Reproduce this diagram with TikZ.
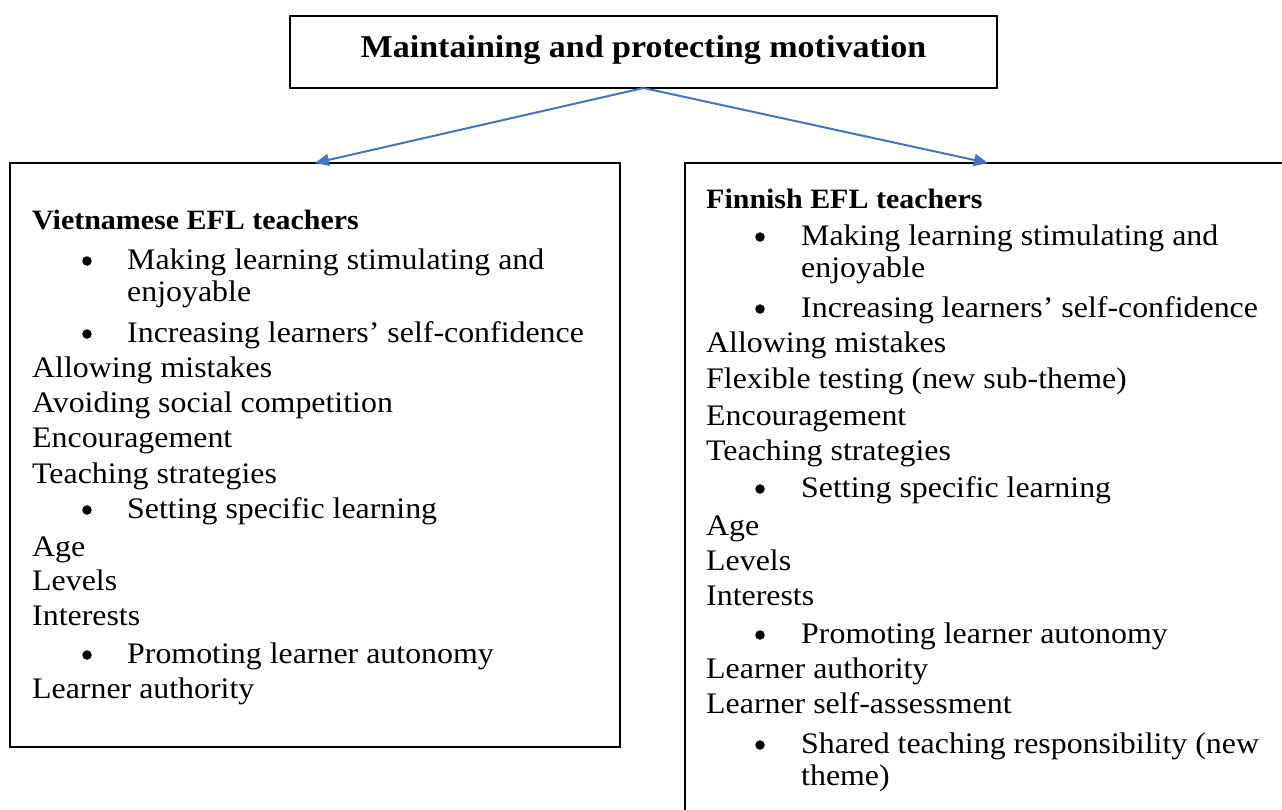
\documentclass[tikz,border=0pt]{standalone}
\usepackage{fontspec}
\setmainfont[FakeStretch=1.07]{Liberation Serif}
\usetikzlibrary{arrows.meta}
\definecolor{arrowblue}{HTML}{4472C4}
\begin{document}
\begin{tikzpicture}[x=1pt,y=-1pt,
  box/.style={draw=black, line width=2pt, inner sep=0pt, outer sep=0pt, anchor=north west},
  txt/.style={anchor=base west, inner sep=0pt, font=\fontsize{29.8}{34}\selectfont},
  hd/.style={anchor=base west, inner sep=0pt, font=\fontsize{28}{34}\selectfont\bfseries},
  ttl/.style={anchor=base, inner sep=0pt, font=\fontsize{31.8}{36}\selectfont\bfseries},
  dot/.style={circle, fill=black, inner sep=0pt, minimum size=9.5pt},
  conn/.style={draw=arrowblue, line width=2pt, -{Triangle[length=14pt,width=12pt]}}
]
\useasboundingbox (0,0) rectangle (1282,809);
\clip (0,0) rectangle (1282,809);

% boxes
\node[box, minimum width=707pt, minimum height=72pt] (top) at (290,16) {};
\node[box, minimum width=610pt, minimum height=584pt] (vbox) at (10,163) {};
\node[box, minimum width=606pt, minimum height=700pt] (fbox) at (685,163) {};

\node[ttl] (title) at (643.5,57) {Maintaining and protecting motivation};

% connectors
\draw[conn] (top.south) -- (vbox.north);
\draw[conn] (top.south) -- (fbox.north);

% left column
\node[hd]  (v0)  at (32,229) {Vietnamese EFL teachers};
\node[dot] (vb1) at (87,261) {};
\node[txt] (v1)  at (127,269) {Making learning stimulating and};
\node[txt] (v1b) at (127,301) {enjoyable};
\node[dot] (vb2) at (87,334) {};
\node[txt] (v2)  at (127,342) {Increasing learners’ self-confidence};
\node[txt] (v3)  at (32,377) {Allowing mistakes};
\node[txt] (v4)  at (32,412) {Avoiding social competition};
\node[txt] (v5)  at (32,447) {Encouragement};
\node[txt] (v6)  at (32,483) {Teaching strategies};
\node[dot] (vb7) at (87,510) {};
\node[txt] (v7)  at (127,518) {Setting specific learning};
\node[txt] (v8)  at (32,556) {Age};
\node[txt] (v9)  at (32,590) {Levels};
\node[txt] (v10) at (32,625) {Interests};
\node[dot] (vb11) at (87,655) {};
\node[txt] (v11) at (127,663) {Promoting learner autonomy};
\node[txt] (v12) at (32,698) {Learner authority};

% right column
\node[hd]  (f0)  at (706,208) {Finnish EFL teachers};
\node[dot] (fb1) at (760,237) {};
\node[txt] (f1)  at (801,245) {Making learning stimulating and};
\node[txt] (f1b) at (801,277) {enjoyable};
\node[dot] (fb2) at (760,309) {};
\node[txt] (f2)  at (801,317) {Increasing learners’ self-confidence};
\node[txt] (f3)  at (706,352) {Allowing mistakes};
\node[txt] (f4)  at (706,388) {Flexible testing (new sub-theme)};
\node[txt] (f5)  at (706,425) {Encouragement};
\node[txt] (f6)  at (706,460) {Teaching strategies};
\node[dot] (fb7) at (760,489) {};
\node[txt] (f7)  at (801,497) {Setting specific learning};
\node[txt] (f8)  at (706,535) {Age};
\node[txt] (f9)  at (706,570) {Levels};
\node[txt] (f10) at (706,605) {Interests};
\node[dot] (fb11) at (760,635) {};
\node[txt] (f11) at (801,643) {Promoting learner autonomy};
\node[txt] (f12) at (706,678) {Learner authority};
\node[txt] (f13) at (706,713) {Learner self-assessment};
\node[dot] (fb14) at (760,745) {};
\node[txt] (f14) at (801,753) {Shared teaching responsibility (new};
\node[txt] (f14b) at (801,785) {theme)};
\end{tikzpicture}
\end{document}
